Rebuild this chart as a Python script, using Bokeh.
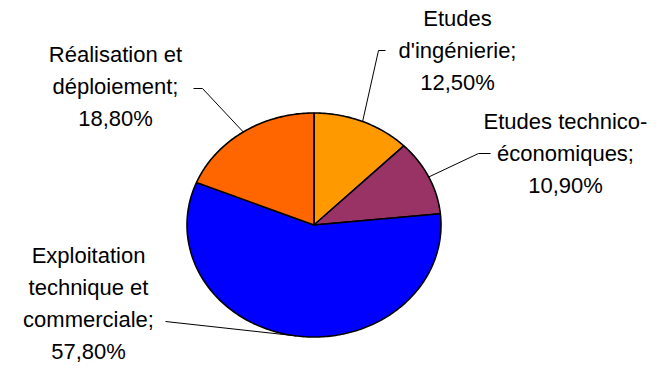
import numpy as np
from bokeh.plotting import figure
from bokeh.models import Range1d, ColumnDataSource
from bokeh.embed import file_html
from bokeh.resources import INLINE
from bokeh.core.properties import value

# ---- data ----
categories = ["Etudes\nd'ingénierie;", "Etudes technico-\néconomiques;",
              "Exploitation\ntechnique et\ncommerciale;", "Réalisation et\ndéploiement;"]
shares = [12.5, 10.9, 57.8, 18.8]
colors = ["#FF9900", "#993366", "#0000FF", "#FF6600"]

# ---- layout (pixel coordinates) ----
CX, CY, RX, RY = 313.5, 224.5, 127.0, 112.0
label_pos = [(457, 50), (565, 153), (88, 303), (115, 86)]
elbow = [(378, 50), (478, 153), (165, 321), (202, 88)]
elbow_start = [(385, 50), (490, 153), (165, 321), (193, 88)]

p = figure(width=651, height=364, output_backend="svg", toolbar_location=None,
           x_range=Range1d(0, 651), y_range=Range1d(364, 0), min_border=0)
p.axis.visible = False
p.grid.visible = False
p.outline_line_color = None
p.background_fill_color = "white"
p.border_fill_color = "white"

fr = np.array(shares) / sum(shares)
ends = np.cumsum(fr)
starts = ends - fr

def pt(frac):
    th = 2 * np.pi * frac
    return CX + RX * np.sin(th), CY - RY * np.cos(th)

xs, ys = [], []
for s, e in zip(starts, ends):
    t = np.linspace(s, e, max(int((e - s) * 400), 8))
    px, py = pt(t)
    xs.append([CX] + list(px) + [CX])
    ys.append([CY] + list(py) + [CY])

p.patches(xs=xs, ys=ys, fill_color=colors, line_color="black", line_width=1.6)

# leader lines
for i, (s, e) in enumerate(zip(starts, ends)):
    mx, my = pt((s + e) / 2)
    p.line(x=[elbow_start[i][0], elbow[i][0], mx], y=[elbow_start[i][1], elbow[i][1], my],
           line_color="black", line_width=1)

labels = [c + "\n" + f"{v:.2f}".replace(".", ",") + "%" for c, v in zip(categories, shares)]
src = ColumnDataSource(dict(x=[q[0] for q in label_pos], y=[q[1] for q in label_pos], t=labels))
p.text(x="x", y="y", text="t", source=src, text_align="center", text_baseline="middle",
       text_font=value("Liberation Sans"), text_font_size="22px", text_color="black",
       text_line_height=1.27)

open("out.html", "w").write(file_html(p, INLINE))
